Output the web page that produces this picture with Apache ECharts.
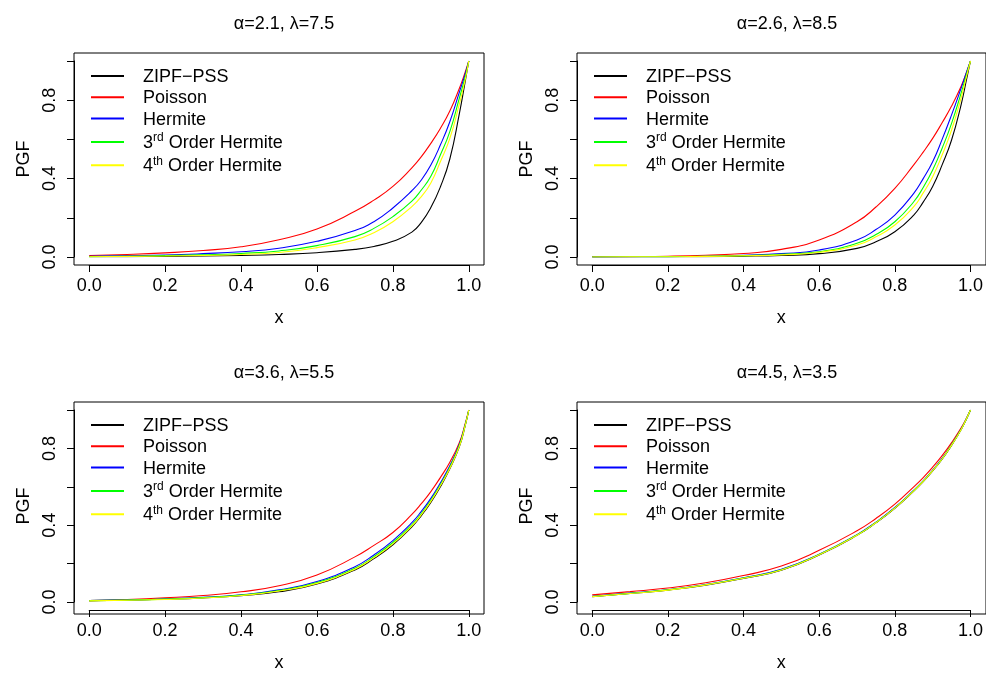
<!DOCTYPE html>
<html>
<head>
<meta charset="utf-8">
<script src="https://cdn.jsdelivr.net/npm/echarts@6/dist/echarts.min.js"></script>
<style>
html,body{margin:0;padding:0;background:#fff;}
#chart{width:986px;height:673px;}
</style>
</head>
<body>
<div id="chart"></div>
<script>
// ---- data ----
const xs = [0, 0.1, 0.2, 0.3, 0.4, 0.5, 0.6, 0.7, 0.75, 0.8, 0.85, 0.875, 0.9, 0.925, 0.95, 0.975, 0.99, 1.0];
const seriesNames = ['ZIPF\u2212PSS', 'Poisson', 'Hermite', '3rd Order Hermite', '4th Order Hermite'];
const panelTitles = ['\u03b1=2.1, \u03bb=7.5', '\u03b1=2.6, \u03bb=8.5', '\u03b1=3.6, \u03bb=5.5', '\u03b1=4.5, \u03bb=3.5'];
const yLabelValues = [0, 0.4, 0.8];

// panel 1: alpha=2.1, lambda=7.5
const zipf1    = [0.001, 0.002, 0.003, 0.005, 0.008, 0.013, 0.022, 0.039, 0.054, 0.08, 0.127, 0.177, 0.252, 0.357, 0.50, 0.73, 0.89, 1.0];
const poisson1 = [0.008, 0.013, 0.021, 0.033, 0.052, 0.088, 0.143, 0.233, 0.29, 0.36, 0.455, 0.512, 0.58, 0.656, 0.745, 0.86, 0.94, 1.0];
const hermite1 = [0.004, 0.007, 0.010, 0.017, 0.027, 0.045, 0.08, 0.135, 0.18, 0.25, 0.338, 0.393, 0.469, 0.571, 0.69, 0.84, 0.93, 1.0];
const herm3_1  = [0.002, 0.004, 0.007, 0.011, 0.018, 0.031, 0.058, 0.104, 0.146, 0.206, 0.285, 0.342, 0.412, 0.52, 0.64, 0.81, 0.915, 1.0];
const herm4_1  = [0.001, 0.003, 0.005, 0.008, 0.013, 0.023, 0.048, 0.087, 0.124, 0.18, 0.257, 0.308, 0.378, 0.486, 0.605, 0.78, 0.90, 1.0];

// panel 2: alpha=2.6, lambda=8.5
const zipf2    = [0.000, 0.001, 0.001, 0.002, 0.004, 0.008, 0.017, 0.044, 0.078, 0.129, 0.214, 0.28, 0.36, 0.47, 0.597, 0.775, 0.91, 1.0];
const poisson2 = [0.001, 0.002, 0.004, 0.009, 0.018, 0.039, 0.087, 0.18, 0.255, 0.35, 0.47, 0.535, 0.605, 0.685, 0.77, 0.87, 0.945, 1.0];
const hermite2 = [0.000, 0.001, 0.002, 0.004, 0.009, 0.017, 0.036, 0.087, 0.14, 0.214, 0.325, 0.40, 0.486, 0.60, 0.725, 0.86, 0.945, 1.0];
const herm3_2  = [0.000, 0.001, 0.002, 0.003, 0.007, 0.014, 0.027, 0.070, 0.115, 0.18, 0.282, 0.355, 0.444, 0.555, 0.682, 0.835, 0.935, 1.0];
const herm4_2  = [0.000, 0.001, 0.001, 0.003, 0.006, 0.011, 0.024, 0.061, 0.103, 0.163, 0.257, 0.327, 0.41, 0.52, 0.648, 0.81, 0.925, 1.0];

// panel 3: alpha=3.6, lambda=5.5
const zipf3    = [0.007, 0.010, 0.014, 0.021, 0.033, 0.053, 0.094, 0.167, 0.226, 0.298, 0.391, 0.45, 0.519, 0.60, 0.694, 0.808, 0.913, 1.0];
const poisson3 = [0.007, 0.013, 0.022, 0.034, 0.053, 0.085, 0.141, 0.235, 0.295, 0.362, 0.456, 0.512, 0.575, 0.648, 0.728, 0.83, 0.925, 1.0];
const hermite3 = [0.007, 0.011, 0.016, 0.024, 0.037, 0.063, 0.107, 0.184, 0.245, 0.32, 0.413, 0.472, 0.54, 0.62, 0.71, 0.82, 0.92, 1.0];
const herm3_3  = [0.007, 0.010, 0.015, 0.023, 0.036, 0.060, 0.101, 0.176, 0.236, 0.31, 0.402, 0.461, 0.53, 0.61, 0.702, 0.815, 0.917, 1.0];
const herm4_3  = [0.006, 0.009, 0.013, 0.021, 0.034, 0.057, 0.097, 0.171, 0.231, 0.303, 0.396, 0.455, 0.524, 0.605, 0.697, 0.81, 0.915, 1.0];

// panel 4: alpha=4.5, lambda=3.5
const zipf4    = [0.028, 0.044, 0.062, 0.088, 0.123, 0.166, 0.245, 0.347, 0.412, 0.488, 0.578, 0.627, 0.683, 0.744, 0.816, 0.897, 0.956, 1.0];
const poisson4 = [0.037, 0.054, 0.073, 0.100, 0.138, 0.187, 0.269, 0.371, 0.435, 0.51, 0.60, 0.648, 0.702, 0.762, 0.83, 0.906, 0.96, 1.0];
const hermite4 = [0.030, 0.046, 0.064, 0.091, 0.126, 0.170, 0.249, 0.351, 0.416, 0.492, 0.582, 0.631, 0.687, 0.748, 0.82, 0.90, 0.958, 1.0];
const herm3_4  = [0.029, 0.045, 0.063, 0.090, 0.125, 0.168, 0.247, 0.349, 0.414, 0.49, 0.58, 0.629, 0.685, 0.746, 0.818, 0.898, 0.957, 1.0];
const herm4_4  = [0.028, 0.044, 0.062, 0.089, 0.124, 0.167, 0.246, 0.348, 0.413, 0.489, 0.579, 0.628, 0.684, 0.745, 0.817, 0.897, 0.957, 1.0];

const panelData = [
  [zipf1, poisson1, hermite1, herm3_1, herm4_1],
  [zipf2, poisson2, hermite2, herm3_2, herm4_2],
  [zipf3, poisson3, hermite3, herm3_3, herm4_3],
  [zipf4, poisson4, hermite4, herm3_4, herm4_4]
];
const colors = ['#000000', '#ff0000', '#0000ff', '#00ff00', '#ffff00'];

// ---- layout ----
const FONT = 'Liberation Sans, Arial, Helvetica, sans-serif';
const FS = 18;
const panels = [
  {left: 74,  top: 53},
  {left: 577, top: 53},
  {left: 74,  top: 402},
  {left: 577, top: 402}
];
const PW = 410, PH = 212;       // frame box (R's 4% extended region)
const XO = 15.2, YO = 8;        // offset of data region inside the frame

const grids = [], xAxes = [], yAxes = [], series = [], titles = [], legends = [];
panels.forEach((p, i) => {
  grids.push({left: p.left + XO, top: p.top + YO, width: PW - 2 * XO, height: PH - 2 * YO,
    show: false, containLabel: false});
  xAxes.push({type: 'value', gridIndex: i, min: 0, max: 1, interval: 0.2, offset: YO,
    name: 'x', nameLocation: 'middle', nameGap: 44,
    nameTextStyle: {fontFamily: FONT, fontSize: FS, color: '#000'},
    axisLine: {show: true, onZero: false, lineStyle: {color: '#000', width: 1}},
    axisTick: {show: true, inside: false, length: 7, lineStyle: {color: '#000', width: 1}},
    axisLabel: {show: true, margin: 12, fontFamily: FONT, fontSize: FS, color: '#000',
      formatter: v => v.toFixed(1)},
    splitLine: {show: false}});
  yAxes.push({type: 'value', gridIndex: i, min: 0, max: 1, interval: 0.2, offset: XO,
    name: 'PGF', nameLocation: 'middle', nameGap: 41, nameRotate: 90,
    nameTextStyle: {fontFamily: FONT, fontSize: FS, color: '#000'},
    axisLine: {show: true, onZero: false, lineStyle: {color: '#000', width: 1}},
    axisTick: {show: true, inside: false, length: 7, lineStyle: {color: '#000', width: 1}},
    axisLabel: {show: true, rotate: 90, margin: 15, fontFamily: FONT, fontSize: FS, color: '#000',
      formatter: v => (yLabelValues.some(t => Math.abs(t - v) < 1e-9) ? v.toFixed(1) : '')},
    splitLine: {show: false}});
  titles.push({text: panelTitles[i], left: p.left + PW / 2, top: p.top - 43, textAlign: 'center',
    textStyle: {fontFamily: FONT, fontSize: FS, fontWeight: 'normal', color: '#000'}});
  legends.push({
    show: true, orient: 'vertical', left: p.left + 16, top: p.top + 15, padding: 0,
    itemWidth: 33, itemHeight: 14, itemGap: 3.3,
    data: seriesNames,
    selectedMode: false,
    itemStyle: {opacity: 0},
    formatter: name => {
      if (name.startsWith('3rd')) return '{n|3}{s|rd}{n| Order Hermite}';
      if (name.startsWith('4th')) return '{n|4}{s|th}{n| Order Hermite}';
      return '{n|' + name + '}';
    },
    textStyle: {fontFamily: FONT, fontSize: FS, color: '#000', padding: [0, 0, 0, 14],
      rich: {
        n: {fontFamily: FONT, fontSize: FS, color: '#000', lineHeight: 20, verticalAlign: 'bottom'},
        s: {fontFamily: FONT, fontSize: 12, color: '#000', lineHeight: 8, verticalAlign: 'top'}
      }}
  });
  panelData[i].forEach((vals, k) => {
    series.push({
      name: seriesNames[k], type: 'line', xAxisIndex: i, yAxisIndex: i,
      data: xs.map((x, j) => [x, vals[j]]),
      smooth: 0.5, smoothConstraint: false, symbol: 'none', showSymbol: false,
      lineStyle: {color: colors[k], width: 1.1},
      itemStyle: {color: colors[k]},
      emphasis: {disabled: true}, animation: false, z: 2 + k
    });
  });
});

// frame boxes drawn by extra grids with hidden axes
panels.forEach((p, i) => {
  grids.push({left: p.left, top: p.top, width: PW, height: PH, show: true,
    borderColor: '#000', borderWidth: 1, backgroundColor: 'transparent'});
  xAxes.push({type: 'value', gridIndex: 4 + i, show: false, min: 0, max: 1});
  yAxes.push({type: 'value', gridIndex: 4 + i, show: false, min: 0, max: 1});
});

const chart = echarts.init(document.getElementById('chart'), null, {renderer: 'canvas'});
chart.setOption({
  backgroundColor: '#fff',
  animation: false,
  title: titles,
  legend: legends,
  grid: grids,
  xAxis: xAxes,
  yAxis: yAxes,
  series: series
});
</script>
</body>
</html>
